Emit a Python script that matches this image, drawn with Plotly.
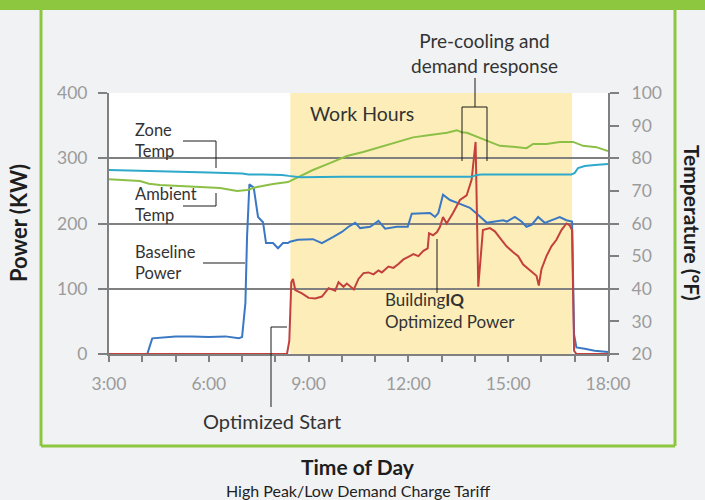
import plotly.graph_objects as go

# ---------------- data ----------------
baseline_t = [3.0, 4.15, 4.3, 4.6, 5.0, 5.5, 6.0, 6.5, 6.75, 6.9, 7.0, 7.06, 7.1, 7.15, 7.22, 7.35, 7.48, 7.63, 7.72, 7.93, 8.08,
              8.23, 8.38, 8.44, 8.68, 9.13, 9.4, 9.73, 10.0, 10.2, 10.4, 10.55, 10.85, 11.1, 11.3, 11.65, 11.98, 12.1,
              12.65, 12.8, 12.9, 13.04, 13.25, 13.55, 13.85, 14.1, 14.36, 14.6, 14.85, 14.96, 15.2, 15.4, 15.55, 15.7,
              15.9, 16.1, 16.3, 16.55, 16.75, 16.92, 16.98, 17.05, 17.3, 17.6, 18.0]
baseline_kw = [0, 0, 24, 25, 27, 27, 26, 27, 25, 24, 26, 62, 78, 180, 260, 255, 210, 202, 170, 170, 162,
               170, 170, 172, 175, 176, 170, 179, 187, 195, 201, 193, 195, 204, 192, 195, 195, 215,
               216, 210, 216, 244, 236, 230, 224, 213, 201, 203, 205, 203, 210, 203, 195, 198,
               210, 201, 205, 210, 205, 203, 30, 10, 8, 5, 3]

optimized_t = [3.0, 8.35, 8.42, 8.48, 8.53, 8.6, 8.8, 9.0, 9.2, 9.4, 9.6, 9.8, 9.9, 10.05, 10.15, 10.3, 10.36, 10.5,
               10.65, 10.8, 10.95, 11.1, 11.2, 11.4, 11.55, 11.7, 11.85, 12.0, 12.15, 12.3, 12.45, 12.58, 12.62, 12.74,
               12.86, 12.95, 13.04, 13.15, 13.34, 13.55, 13.75, 13.9, 14.02, 14.1, 14.24, 14.45, 14.6, 14.75, 14.95,
               15.15, 15.3, 15.45, 15.6, 15.75, 15.85, 15.92, 16.0, 16.15, 16.3, 16.45, 16.6, 16.75, 16.85, 16.92,
               16.98, 17.05, 18.0]
optimized_kw = [0, 0, 20, 110, 115, 98, 93, 86, 85, 88, 101, 97, 110, 103, 108, 101, 99, 115,
                124, 125, 122, 128, 125, 134, 132, 138, 145, 149, 153, 150, 158, 162, 185, 182,
                187, 195, 210, 200, 216, 236, 243, 267, 325, 103, 190, 193, 188, 178, 165,
                156, 150, 137, 130, 124, 120, 105, 130, 150, 165, 175, 190, 200, 197, 190,
                5, 0, 0]

zone_t = [3.0, 4.0, 5.0, 6.0, 7.0, 7.2, 7.6, 8.2, 8.4, 8.6, 8.75, 10.0, 12.0, 13.9, 14.05, 14.2, 16.9, 17.0,
          17.1, 17.3, 17.6, 18.0]
zone_f = [76.4, 76.2, 75.9, 75.6, 75.3, 75.0, 75.0, 74.9, 74.6, 74.3, 74.2, 74.3, 74.3, 74.3, 74.9, 75.0, 75.0, 75.5,
          77.0, 77.6, 77.9, 78.2]

ambient_t = [3.0, 3.5, 3.93, 4.2, 4.53, 5.13, 5.73, 6.34, 6.85, 7.15, 7.45, 7.93, 8.38, 8.68, 9.13, 9.64, 10.15,
             10.64, 11.15, 11.65, 12.14, 12.65, 13.16, 13.46, 13.6, 13.76, 14.15, 14.45, 14.75, 15.15, 15.55, 15.75,
             16.15, 16.55, 16.95, 17.25, 17.65, 18.0]
ambient_f = [73.6, 73.3, 73.0, 72.2, 71.8, 71.5, 71.2, 70.9, 70.0, 70.3, 71.2, 72.1, 72.7, 74.2, 76.4, 78.5, 80.7,
             81.9, 83.5, 85.0, 86.4, 87.1, 87.8, 88.6, 88.0, 87.8, 86.2, 85.0, 83.8, 83.5, 83.1, 84.4,
             84.4, 85.0, 85.0, 83.8, 83.4, 82.2]

hour_ticks = list(range(3, 19))
hour_labels = [f"{h}:00" if h % 3 == 0 else "" for h in hour_ticks]
power_ticks = [0, 100, 200, 300, 400]
temp_ticks = list(range(20, 101, 10))
work_hours = [8.45, 16.92]

# ---------------- layout helpers (pixel -> paper) ----------------
L, R, T, B = 109, 608, 93, 354
W, H = R - L, B - T
def px(x): return (x - L) / W
def py(y): return (B - y) / H

FONT = "Lato, 'Open Sans', sans-serif"
GRID = "#808080"
TICKC = "#9b9b9b"
TXT = "#333333"
DARK = "#1e1e1e"
GREEN = "#8dc63f"

fig = go.Figure()
fig.add_trace(go.Scatter(x=ambient_t, y=ambient_f, yaxis="y2", mode="lines",
                         line=dict(color="#8cbf46", width=2), name="Ambient Temp"))
fig.add_trace(go.Scatter(x=zone_t, y=zone_f, yaxis="y2", mode="lines",
                         line=dict(color="#2ea9cb", width=2), name="Zone Temp"))
fig.add_trace(go.Scatter(x=baseline_t, y=baseline_kw, mode="lines",
                         line=dict(color="#3a78c4", width=2), name="Baseline Power"))
fig.add_trace(go.Scatter(x=optimized_t, y=optimized_kw, mode="lines",
                         line=dict(color="#c3403d", width=2), name="Optimized Power"))

shapes = []
# work hours band
shapes.append(dict(type="rect", xref="x", yref="paper", x0=work_hours[0], x1=work_hours[1], y0=0, y1=1,
                   fillcolor="#fdeeb9", line=dict(width=0), layer="below"))
# green frame
shapes.append(dict(type="rect", xref="paper", yref="paper", x0=px(0), x1=px(705), y0=py(10), y1=py(0),
                   fillcolor=GREEN, line=dict(width=0)))
for (x0, y0, x1, y1) in [(41, 10, 41, 446), (675, 10, 675, 446), (41, 446, 675, 446)]:
    shapes.append(dict(type="line", xref="paper", yref="paper", x0=px(x0), y0=py(y0), x1=px(x1), y1=py(y1),
                       line=dict(color=GREEN, width=3)))
# leader lines
leaders = [(475, 78, 475, 107), (462, 107, 487, 107), (462, 107, 462, 161), (487, 107, 487, 161),
           (183, 141, 216, 141), (216, 141, 216, 168),
           (216, 193, 216, 206), (183, 206, 216, 206),
           (203, 263, 245, 263),
           (271, 327, 287, 327), (271, 327, 271, 407),
           (437, 239, 437, 293)]
for (x0, y0, x1, y1) in leaders:
    shapes.append(dict(type="line", xref="paper", yref="paper", x0=px(x0), y0=py(y0), x1=px(x1), y1=py(y1),
                       line=dict(color="#1a1a1a", width=1)))

def ann(text, x, y, size=16.5, xanchor="left", color=TXT, angle=0, align="left"):
    return dict(text=text, xref="paper", yref="paper", x=px(x), y=py(y), xanchor=xanchor, yanchor="middle",
                showarrow=False, textangle=angle, align=align, borderpad=0,
                font=dict(family=FONT, size=size, color=color))

annotations = [
    ann("Pre-cooling and<br>demand response", 484, 53, size=19, xanchor="center", align="center"),
    ann("Work Hours", 309, 113, size=19.5),
    ann("Zone<br>Temp", 134, 140),
    ann("Ambient<br>Temp", 134, 204),
    ann("Baseline<br>Power", 134, 262),
    ann("Building<b>IQ</b><br>Optimized Power", 384, 310, size=17),
    ann("Optimized Start", 272, 421, size=20, xanchor="center"),
    ann("<b>Power (KW)</b>", 18, 223, size=22, xanchor="center", color=DARK, angle=-90),
    ann("<b>Temperature (°F)</b>", 693, 223, size=21, xanchor="center", color=DARK, angle=90),
    ann("<b>Time of Day</b>", 358, 466, size=21, xanchor="center", color=DARK),
    ann("High Peak/Low Demand Charge Tariff", 358, 490.5, size=16, xanchor="center", color=DARK),
]

tickfont = dict(family=FONT, size=17.5, color=TICKC)
fig.update_layout(
    width=705, height=500,
    margin=dict(l=L, r=705 - R, t=T, b=500 - B, pad=0),
    paper_bgcolor="#f1f2f4", plot_bgcolor="#ffffff",
    showlegend=False,
    font=dict(family=FONT, color=TICKC, size=16),
    xaxis=dict(range=[3, 18], tickvals=hour_ticks, ticktext=hour_labels, showgrid=False, zeroline=False,
               ticks="outside", ticklen=6, tickwidth=2, tickcolor=GRID, showline=True, linecolor=GRID, linewidth=2,
               tickfont=tickfont, ticklabelstandoff=7),
    yaxis=dict(range=[0, 400], tickvals=power_ticks, showgrid=True, gridcolor=GRID, gridwidth=2,
               zeroline=False, ticks="outside", ticklen=9, tickwidth=2, tickcolor=GRID, showline=True,
               linecolor=GRID, linewidth=2, tickfont=tickfont, ticklabelstandoff=7),
    yaxis2=dict(range=[20, 100], tickvals=temp_ticks, overlaying="y", side="right", showgrid=False,
                zeroline=False, ticks="outside", ticklen=9, tickwidth=2, tickcolor=GRID, showline=True,
                linecolor=GRID, linewidth=2, tickfont=tickfont, ticklabelstandoff=9),
    shapes=shapes,
    annotations=annotations,
)

fig.write_html("out.html", config={"displayModeBar": False},
               post_script="document.body.style.margin='0';document.body.style.overflow='hidden';")
